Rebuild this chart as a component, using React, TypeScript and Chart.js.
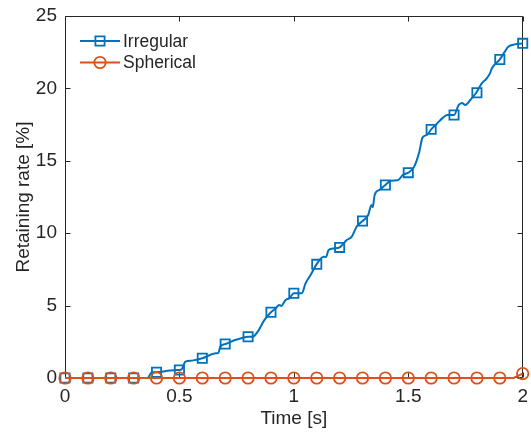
import React, { useEffect, useRef } from "react";
import { Chart, registerables } from "chart.js";

Chart.register(...registerables);

// ---- data ----
const seriesNames = ["Irregular", "Spherical"];
const markerTimes = [0, 0.1, 0.2, 0.3, 0.4, 0.5, 0.6, 0.7, 0.8, 0.9, 1.0, 1.1, 1.2, 1.3, 1.4, 1.5, 1.6, 1.7, 1.8, 1.9, 2.0];
const irregularMarkers = [0, 0, 0, 0, 0.4, 0.55, 1.36, 2.35, 2.85, 4.54, 5.85, 7.85, 9.02, 10.84, 13.33, 14.18, 17.17, 18.16, 19.7, 22.0, 23.11];
const sphericalMarkers = [0, 0, 0, 0, 0, 0, 0, 0, 0, 0, 0, 0, 0, 0, 0, 0, 0, 0, 0, 0, 0.3];

const irregularTimes = [
  0, 0.1, 0.2, 0.3, 0.36, 0.38, 0.4, 0.45, 0.49, 0.5, 0.51, 0.526, 0.555, 0.6, 0.634, 0.655, 0.67, 0.678,
  0.702, 0.743, 0.77, 0.8, 0.82, 0.842, 0.871, 0.9, 0.921, 0.936, 0.945, 0.964, 0.98, 1.0, 1.035, 1.051,
  1.073, 1.099, 1.13, 1.14, 1.152, 1.175, 1.2, 1.231, 1.253, 1.274, 1.3, 1.325, 1.339, 1.345, 1.353, 1.375,
  1.4, 1.425, 1.454, 1.476, 1.5, 1.526, 1.548, 1.562, 1.583, 1.6, 1.627, 1.648, 1.67, 1.7, 1.72, 1.735,
  1.749, 1.771, 1.797, 1.821, 1.843, 1.857, 1.865, 1.9, 1.922, 1.937, 1.965, 2.0,
];
const irregularValues = [
  0, 0, 0, 0, 0, 0.4, 0.4, 0.5, 0.55, 0.55, 0.6, 1.13, 1.2, 1.36, 1.59, 1.7, 1.72, 2.16,
  2.35, 2.62, 2.75, 2.85, 2.85, 3.2, 4.0, 4.54, 4.81, 5.04, 4.98, 5.39, 5.5, 5.85, 5.85, 6.54,
  7.11, 7.85, 8.38, 8.35, 8.84, 8.95, 9.02, 9.53, 9.76, 10.45, 10.84, 11.26, 11.95, 11.8, 12.64, 13.0,
  13.33, 13.63, 13.65, 14.02, 14.18, 14.6, 15.6, 16.6, 16.8, 17.17, 17.59, 17.93, 18.16, 18.16, 18.85, 19.0,
  18.85, 19.2, 19.7, 20.35, 20.7, 21.04, 21.38, 22.0, 22.54, 22.88, 23.04, 23.11,
];
const sphericalTimes = [0, 1.96, 2.0];
const sphericalValues = [0, 0, 0.3];

const xTicks = [0, 0.5, 1, 1.5, 2];
const yTicks = [0, 5, 10, 15, 20, 25];
const xTitle = "Time [s]";
const yTitle = "Retaining rate [%]";

// ---- styles ----
const BLUE = "#0072BD";
const ORANGE = "#D95319";
const AXIS = "#262626";
const FONT = "'Liberation Sans', Arial, Helvetica, sans-serif";
const SQ_R = 6.5;
const CI_R = 5.7;
const MW = 1.8;

const pts = (xs: number[], ys: number[]) => xs.map((x, i) => ({ x, y: ys[i] }));

const axesBox = {
  id: "axesBox",
  beforeDatasetsDraw(chart: any) {
    const { ctx, chartArea, scales } = chart;
    const { left, right, top, bottom } = chartArea;
    const L = Math.round(left) + 0.5;
    const R = Math.round(right) - 0.5;
    const T = Math.round(top) + 0.5;
    const B = Math.round(bottom) - 0.5;
    ctx.save();
    ctx.strokeStyle = AXIS;
    ctx.lineWidth = 1;
    ctx.beginPath();
    ctx.rect(L, T, R - L, B - T);
    xTicks.forEach((v) => {
      const px = Math.round(scales.x.getPixelForValue(v)) + 0.5;
      ctx.moveTo(px, B);
      ctx.lineTo(px, B - 5);
      ctx.moveTo(px, T);
      ctx.lineTo(px, T + 5);
    });
    yTicks.forEach((v) => {
      const py = Math.round(scales.y.getPixelForValue(v)) + 0.5;
      ctx.moveTo(L, py);
      ctx.lineTo(L + 5, py);
      ctx.moveTo(R, py);
      ctx.lineTo(R - 5, py);
    });
    ctx.stroke();
    ctx.restore();
  },
};

const legendPlugin = {
  id: "matlabLegend",
  afterDraw(chart: any) {
    const { ctx } = chart;
    const colors = [BLUE, ORANGE];
    ctx.save();
    seriesNames.forEach((name, i) => {
      const y = 41 + i * 21.5;
      ctx.strokeStyle = colors[i];
      ctx.lineWidth = 2;
      ctx.beginPath();
      ctx.moveTo(80, y);
      ctx.lineTo(120, y);
      ctx.stroke();
      ctx.lineWidth = MW;
      ctx.beginPath();
      if (i === 0) {
        const s = SQ_R * Math.SQRT1_2;
        ctx.rect(100 - s, y - s, 2 * s, 2 * s);
      } else {
        ctx.arc(100, y, CI_R, 0, Math.PI * 2);
      }
      ctx.stroke();
      ctx.fillStyle = AXIS;
      ctx.font = `17.5px ${FONT}`;
      ctx.textAlign = "left";
      ctx.textBaseline = "middle";
      ctx.fillText(name, 123, y + 1);
    });
    ctx.restore();
  },
};

export default function App() {
  const ref = useRef<HTMLCanvasElement>(null);

  useEffect(() => {
    if (!ref.current) return;
    const tickFont = { family: FONT, size: 19 };
    const fmt = (v: any) => String(Number(v));
    const chart = new Chart(ref.current, {
      type: "line",
      data: {
        datasets: [
          {
            label: seriesNames[0],
            data: pts(irregularTimes, irregularValues),
            borderColor: BLUE,
            borderWidth: 2,
            pointRadius: 0,
            cubicInterpolationMode: "monotone",
            fill: false,
            order: 4,
            clip: false,
          } as any,
          {
            label: seriesNames[0] + " markers",
            data: pts(markerTimes, irregularMarkers),
            showLine: false,
            pointStyle: "rect",
            pointRadius: SQ_R,
            pointBorderWidth: MW,
            pointBorderColor: BLUE,
            pointBackgroundColor: "rgba(0,0,0,0)",
            order: 3,
            clip: false,
          },
          {
            label: seriesNames[1],
            data: pts(sphericalTimes, sphericalValues),
            borderColor: ORANGE,
            borderWidth: 2,
            pointRadius: 0,
            fill: false,
            order: 2,
            clip: false,
          },
          {
            label: seriesNames[1] + " markers",
            data: pts(markerTimes, sphericalMarkers),
            showLine: false,
            pointStyle: "circle",
            pointRadius: CI_R,
            pointBorderWidth: MW,
            pointBorderColor: ORANGE,
            pointBackgroundColor: "rgba(0,0,0,0)",
            order: 1,
            clip: false,
          },
        ],
      },
      options: {
        animation: false,
        responsive: false,
        maintainAspectRatio: false,
        layout: { padding: { top: 16, right: 4, left: 0, bottom: 0 } },
        plugins: { legend: { display: false }, tooltip: { enabled: false } },
        events: [],
        scales: {
          x: {
            type: "linear",
            min: 0,
            max: 2,
            grid: { display: false, drawTicks: false },
            border: { display: false },
            ticks: {
              stepSize: 0.5,
              color: AXIS,
              font: tickFont,
              padding: 7,
              maxRotation: 0,
              autoSkip: false,
              callback: fmt,
            },
            title: {
              display: true,
              text: xTitle,
              color: AXIS,
              font: tickFont,
              padding: { top: 0, bottom: 2.6 },
            },
            afterFit: (s: any) => {
              s.height = 55;
              s.paddingLeft = 0;
              s.paddingRight = 0;
            },
          },
          y: {
            type: "linear",
            min: 0,
            max: 25,
            grid: { display: false, drawTicks: false },
            border: { display: false },
            ticks: { stepSize: 5, color: AXIS, font: tickFont, padding: 8, callback: fmt },
            title: {
              display: true,
              text: yTitle,
              color: AXIS,
              font: tickFont,
              padding: { top: 12.6, bottom: 0 },
            },
            afterFit: (s: any) => {
              s.width = 65;
              s.paddingTop = 0;
              s.paddingBottom = 0;
            },
          },
        },
      },
      plugins: [axesBox, legendPlugin],
    });
    return () => chart.destroy();
  }, []);

  return (
    <div style={{ position: "fixed", left: 0, top: 0, width: 531, height: 433, background: "#fff" }}>
      <canvas ref={ref} width={531} height={433} style={{ width: 531, height: 433, display: "block" }} />
    </div>
  );
}
